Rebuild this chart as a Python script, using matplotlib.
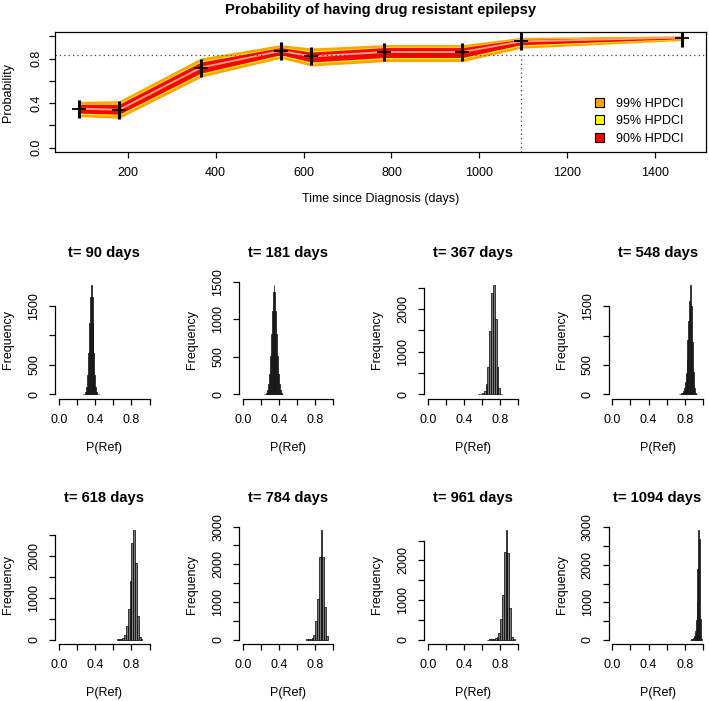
import numpy as np
import matplotlib.pyplot as plt
from matplotlib.patches import Patch

plt.rcParams['font.family'] = ['Liberation Sans', 'DejaVu Sans']
plt.rcParams['font.size'] = 9

# posterior summary of P(refractory) at each follow-up time
times = [90, 181, 367, 548, 618, 784, 961, 1094, 1460]
median = [0.35, 0.34, 0.72, 0.87, 0.82, 0.86, 0.86, 0.955, 0.99]
lo90 = [0.31, 0.30, 0.67, 0.835, 0.77, 0.81, 0.81, 0.925, 0.98]
hi90 = [0.39, 0.39, 0.77, 0.90, 0.86, 0.90, 0.90, 0.975, 0.995]
lo95 = [0.30, 0.29, 0.66, 0.825, 0.76, 0.80, 0.80, 0.915, 0.975]
hi95 = [0.395, 0.40, 0.78, 0.905, 0.87, 0.905, 0.905, 0.98, 0.997]
lo99 = [0.285, 0.27, 0.64, 0.81, 0.74, 0.78, 0.78, 0.90, 0.97]
hi99 = [0.41, 0.415, 0.80, 0.92, 0.89, 0.92, 0.92, 0.985, 0.999]
ref_level = 0.83
ref_day = 1094

# binned posterior draws, one histogram per time
hist_days = [90, 181, 367, 548, 618, 784, 961, 1094]
hist_start = [0.27, 0.24, 0.56, 0.74, 0.64, 0.70, 0.66, 0.86]
hist_width = [0.01, 0.01, 0.02, 0.01, 0.02, 0.02, 0.02, 0.01]
counts_90 = [2, 10, 38, 130, 325, 705, 1210, 1655, 1850, 1655, 1210, 705, 325, 130, 38, 10, 2]
counts_181 = [2, 6, 21, 57, 135, 273, 510, 800, 1114, 1360, 1450, 1360, 1114, 800, 510, 273, 135, 57, 21, 6, 2]
counts_367 = [3, 10, 25, 70, 230, 650, 1490, 2380, 2560, 1780, 650, 140, 12]
counts_548 = [3, 6, 12, 25, 50, 110, 200, 360, 600, 920, 1250, 1600, 1860, 1500, 900, 380, 100, 20, 4]
counts_618 = [5, 10, 20, 40, 120, 320, 730, 1400, 2300, 2600, 1825, 555, 60, 15]
counts_784 = [5, 10, 25, 45, 135, 490, 1070, 2200, 2900, 2200, 870, 90]
counts_961 = [3, 5, 10, 15, 30, 65, 160, 520, 1130, 2220, 2760, 2180, 810, 60, 10]
counts_1094 = [2, 5, 15, 40, 100, 230, 520, 1000, 1900, 2920, 2700, 560, 8]
hist_counts = [counts_90, counts_181, counts_367, counts_548,
               counts_618, counts_784, counts_961, counts_1094]
ytick_top = [1500, 1500, 2500, 1500, 2500, 3000, 2500, 3000]
ytick_shown = [[0, 500, 1500], [0, 500, 1000, 1500], [0, 1000, 2000], [0, 500, 1500],
               [0, 1000, 2000], [0, 1000, 2000, 3000], [0, 1000, 2000], [0, 1000, 2000, 3000]]

W, H = 709, 701
fig = plt.figure(figsize=(W / 100, H / 100), dpi=100)


def add_ax(l, t, r, b):
    return fig.add_axes([l / W, 1 - b / H, (r - l) / W, (b - t) / H])


def pt(px):
    return px * 0.72


# top panel
ax = add_ax(55, 32, 706, 152)
ax.fill_between(times, lo99, hi99, color='#ffa500', lw=1.0, edgecolor='#ffa500')
ax.fill_between(times, lo95, hi95, color='#ffff00', lw=0)
ax.fill_between(times, lo90, hi90, color='#ff0000', lw=0)
ax.plot(times, median, color='#f6a27a', lw=1.4)
ax.plot(times, median, ls='none', marker='|', ms=13, mew=2.2, color='black')
ax.plot(times, median, ls='none', marker='_', ms=10, mew=1.3, color='black')
ax.axhline(ref_level, color='#444444', ls=(0, (1, 2.5)), lw=0.9)
ax.plot([ref_day, ref_day], [-0.04, ref_level], color='#444444', ls=(0, (1, 2.5)), lw=0.9)
ax.set_xlim(35.2, 1514.8)
ax.set_ylim(-0.04, 1.04)
ax.set_xticks(range(200, 1401, 200))
ax.set_yticks([0, 0.2, 0.4, 0.6, 0.8, 1.0])
ax.set_yticklabels(['0.0', '', '0.4', '', '0.8', ''])
ax.tick_params(direction='out', length=pt(6), width=0.9, pad=pt(9))
ax.tick_params(axis='y', pad=pt(6))
plt.setp(ax.get_yticklabels(), rotation=90, va='center')
for s in ax.spines.values():
    s.set_linewidth(0.9)
ax.annotate('Probability of having drug resistant epilepsy', xy=(0.5, 1), xycoords='axes fraction',
            xytext=(0, pt(22)), textcoords='offset points', ha='center', va='center',
            fontsize=10.6, fontweight='bold')
ax.annotate('Time since Diagnosis (days)', xy=(0.5, 0), xycoords='axes fraction',
            xytext=(0, -pt(47)), textcoords='offset points', ha='center', va='center')
ax.annotate('Probability', xy=(0, 0.5), xycoords='axes fraction',
            xytext=(-pt(47), 0), textcoords='offset points', ha='center', va='center', rotation=90)
handles = [Patch(facecolor=c, edgecolor='black', lw=0.8) for c in ['#ffa500', '#ffff00', '#ff0000']]
ax.legend(handles, ['99% HPDCI', '95% HPDCI', '90% HPDCI'], loc='lower right',
          bbox_to_anchor=(0.965, 0.06), frameon=False, borderpad=0, borderaxespad=0,
          handlelength=0.75, handleheight=0.75, handletextpad=0.9, labelspacing=0.45)

# histogram grid
col_zero = [59, 242.7, 427.7, 612.3]
row_span = [(281, 398.5), (526, 644)]
unit = 90.6
for i, d in enumerate(hist_days):
    x0 = col_zero[i % 4]
    top, bot = row_span[i // 4]
    ax = add_ax(x0 - 0.04 * unit, top, x0 + 1.04 * unit, bot)
    counts = np.array(hist_counts[i])
    edges = hist_start[i] + hist_width[i] * np.arange(len(counts))
    ax.bar(edges, counts, width=hist_width[i], align='edge', facecolor='#7a7a7a',
           edgecolor='black', lw=0.5)
    cmax = counts.max()
    ax.set_xlim(-0.04, 1.04)
    ax.set_ylim(-0.04 * cmax, 1.04 * cmax)
    ax.set_xticks([0, 0.2, 0.4, 0.6, 0.8, 1.0])
    ax.set_xticklabels(['0.0', '', '0.4', '', '0.8', ''])
    yt = list(range(0, ytick_top[i] + 1, 500))
    ax.set_yticks(yt)
    ax.set_yticklabels([str(v) if v in ytick_shown[i] else '' for v in yt])
    for k in ['top', 'right']:
        ax.spines[k].set_visible(False)
    ax.spines['bottom'].set_bounds(0, 1)
    ax.spines['left'].set_bounds(0, ytick_top[i])
    for k in ['bottom', 'left']:
        ax.spines[k].set_linewidth(0.9)
    ax.tick_params(direction='out', length=pt(6), width=0.9, pad=pt(9))
    ax.tick_params(axis='y', pad=pt(9))
    plt.setp(ax.get_yticklabels(), rotation=90, va='center')
    ax.annotate('t= %d days' % d, xy=(0.5, 1), xycoords='axes fraction',
                xytext=(0, pt(28)), textcoords='offset points', ha='center', va='center',
                fontsize=10.6, fontweight='bold')
    ax.annotate('P(Ref)', xy=(0.5, 0), xycoords='axes fraction',
                xytext=(0, -pt(49)), textcoords='offset points', ha='center', va='center')
    ax.annotate('Frequency', xy=(0, 0.5), xycoords='axes fraction',
                xytext=(-pt(47), 0), textcoords='offset points', ha='center', va='center',
                rotation=90)

fig.savefig('out.png', dpi=100)
